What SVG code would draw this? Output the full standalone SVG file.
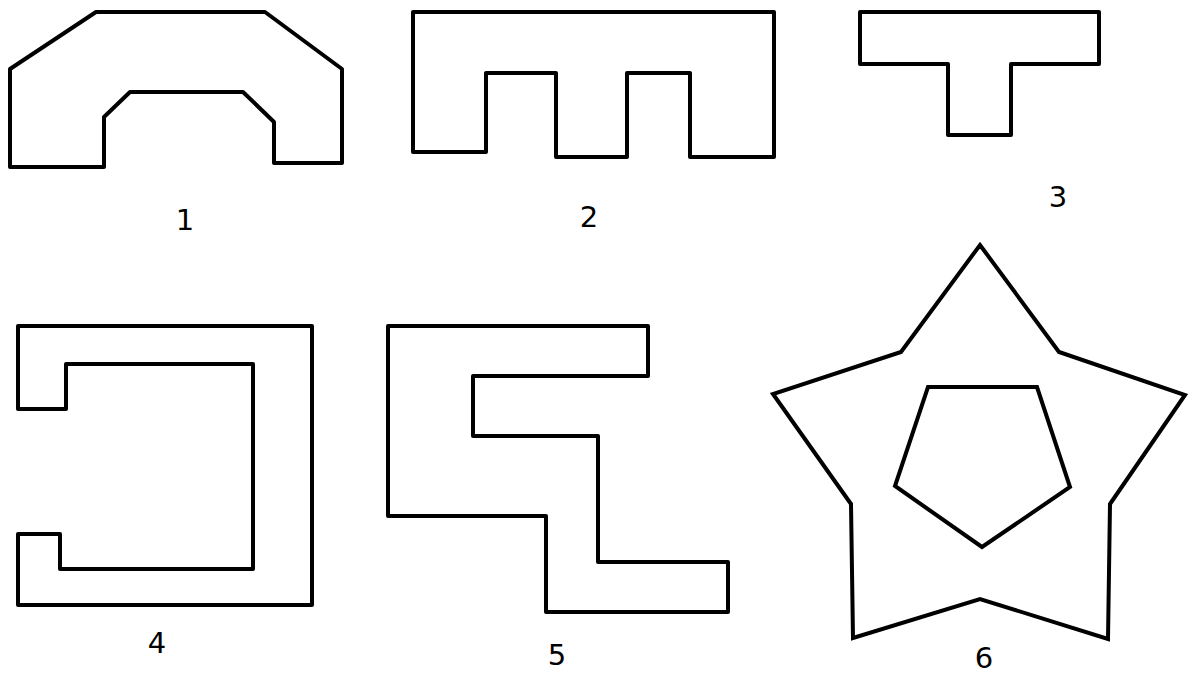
<svg xmlns="http://www.w3.org/2000/svg" width="1189" height="675" viewBox="0 0 1189 675">
<style>
.s{fill:none;stroke:#000;stroke-width:4;stroke-linejoin:round}
.m{fill:none;stroke:#000;stroke-width:4;stroke-linejoin:miter}
.l{font-family:"DejaVu Sans",Verdana,sans-serif;font-size:29px;fill:#000;text-anchor:middle}
</style>
<rect width="1189" height="675" fill="#fff"/>
<g id="shape1">
<polygon class="s" points="96,12 265,12 342,69 342,163 274,163 274,122 243,92 130,92 104,117 104,167 10,167 10,69"/>
<text class="l" x="185" y="230">1</text>
</g>
<g id="shape2">
<polygon class="s" points="413,12 774,12 774,157 690,157 690,73 627,73 627,157 556,157 556,73 486,73 486,152 413,152"/>
<text class="l" x="589" y="227">2</text>
</g>
<g id="shape3">
<polygon class="s" points="860,12 1099,12 1099,64 1011,64 1011,135 948,135 948,64 860,64"/>
<text class="l" x="1058" y="207">3</text>
</g>
<g id="shape4">
<polygon class="s" points="18,326 312,326 312,605 18,605 18,534 60,534 60,569 253,569 253,364 66,364 66,409 18,409"/>
<text class="l" x="157" y="653">4</text>
</g>
<g id="shape5">
<polygon class="s" points="388,326 648,326 648,376 473,376 473,436 598,436 598,562 728,562 728,612 546,612 546,516 388,516"/>
<text class="l" x="557" y="665">5</text>
</g>
<g id="shape6">
<polygon class="m" points="980,245 1059,352 1185,395 1110,504 1108,639 980,599 853,638 851,504 773,394 901,352"/>
<polygon class="m" points="928,387 1037,387 1070,487 982,547 895,486"/>
<text class="l" x="984" y="668">6</text>
</g>
<g id="connectors"/>
</svg>
